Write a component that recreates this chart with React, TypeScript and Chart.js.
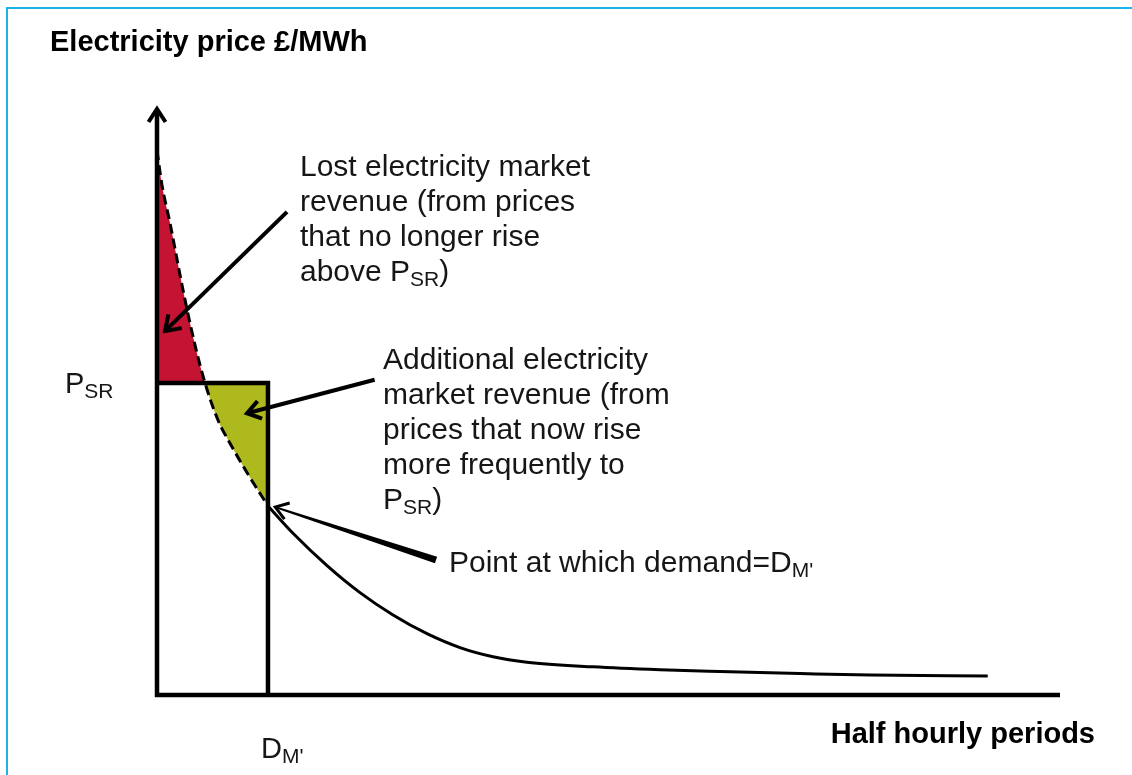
import React, { useEffect, useRef } from "react";
import { Chart, registerables } from "chart.js";
Chart.register(...registerables);

// Price level P_SR and demand point D_M' (data units: % of axis length)
const PSR = 53.15;
const DM = 12.29;

// Price duration curve above D_M' (dashed part)
const dashedX = [0, 0.55, 1.44, 2.88, 4.21, 5.32, 6.76, 8.08, 10.08, 12.29];
const dashedY = [92.8, 86.9, 80.4, 69.0, 59.6, 53.15, 46.8, 42.9, 37.6, 32.2];

// Price duration curve below D_M' (solid part)
const solidX = [12.29, 15.06, 18.83, 22.48, 26.14, 29.9, 33.55, 37.21, 40.97, 48.28, 55.7, 62.35, 71.2, 79.0, 92.0];
const solidY = [32.2, 27.55, 22.04, 17.44, 13.63, 10.44, 8.07, 6.51, 5.59, 4.8, 4.3, 4.0, 3.66, 3.4, 3.24];

// Annotation text
const lostLines = ["Lost electricity market", "revenue (from prices", "that no longer rise", "above P|SR|)"];
const addLines = ["Additional electricity", "market revenue (from", "prices that now rise", "more frequently to", "P|SR|)"];
const pointLabel = "Point at which demand=D|M'|";
const yTitle = "Electricity price £/MWh";
const xTitle = "Half hourly periods";
const psrLabel = "P|SR|";
const dmLabel = "D|M'|";

// Annotation arrows: [startX, startY, tipX, tipY] in data units
const arrowLost = [14.4, 82.3, 0.89, 62.0];
const arrowAdd = [24.1, 53.7, 9.97, 48.0];
const arrowPoint = [30.9, 23.0, 13.1, 32.0];

const RED = "#c51433";
const OLIVE = "#aeb91d";
const INK = "#161616";
const FONT = "'Liberation Sans', Arial, Helvetica, sans-serif";

function drawRich(ctx: CanvasRenderingContext2D, text: string, x: number, y: number, size: number, subSize: number, weight = "normal", align: "left" | "right" = "left") {
  const parts = text.split("|");
  const segs = parts.map((t, i) => ({ t, sub: i % 2 === 1 }));
  let total = 0;
  for (const s of segs) {
    ctx.font = `${weight} ${s.sub ? subSize : size}px ${FONT}`;
    total += ctx.measureText(s.t).width;
  }
  let cx = align === "right" ? x - total : x;
  ctx.textAlign = "left";
  ctx.textBaseline = "alphabetic";
  for (const s of segs) {
    ctx.font = `${weight} ${s.sub ? subSize : size}px ${FONT}`;
    ctx.fillText(s.t, cx, s.sub ? y + 5 : y);
    cx += ctx.measureText(s.t).width;
  }
}

function arrow(ctx: CanvasRenderingContext2D, x0: number, y0: number, x1: number, y1: number, w: number, head: number) {
  const ang = Math.atan2(y1 - y0, x1 - x0);
  ctx.save();
  ctx.strokeStyle = "#000";
  ctx.lineWidth = w;
  ctx.lineCap = "butt";
  ctx.beginPath();
  ctx.moveTo(x0, y0);
  ctx.lineTo(x1 - Math.cos(ang) * 2, y1 - Math.sin(ang) * 2);
  ctx.stroke();
  ctx.lineJoin = "miter";
  ctx.beginPath();
  ctx.moveTo(x1 - head * Math.cos(ang - 0.6), y1 - head * Math.sin(ang - 0.6));
  ctx.lineTo(x1, y1);
  ctx.lineTo(x1 - head * Math.cos(ang + 0.6), y1 - head * Math.sin(ang + 0.6));
  ctx.stroke();
  ctx.restore();
}

function taperArrow(ctx: CanvasRenderingContext2D, x0: number, y0: number, x1: number, y1: number, w0: number, w1: number, head: number) {
  const ang = Math.atan2(y1 - y0, x1 - x0);
  const nx = -Math.sin(ang), ny = Math.cos(ang);
  ctx.save();
  ctx.fillStyle = "#000";
  ctx.beginPath();
  ctx.moveTo(x0 + nx * w0 / 2, y0 + ny * w0 / 2);
  ctx.lineTo(x1 + nx * w1 / 2, y1 + ny * w1 / 2);
  ctx.lineTo(x1 - nx * w1 / 2, y1 - ny * w1 / 2);
  ctx.lineTo(x0 - nx * w0 / 2, y0 - ny * w0 / 2);
  ctx.closePath();
  ctx.fill();
  ctx.strokeStyle = "#000";
  ctx.lineWidth = 3;
  ctx.beginPath();
  ctx.moveTo(x1 - head * Math.cos(ang - 0.6), y1 - head * Math.sin(ang - 0.6));
  ctx.lineTo(x1, y1);
  ctx.lineTo(x1 - head * Math.cos(ang + 0.6), y1 - head * Math.sin(ang + 0.6));
  ctx.stroke();
  ctx.restore();
}

const diagramPlugin = {
  id: "diagram",
  afterDatasetsDraw(chart: any) {
    const ctx: CanvasRenderingContext2D = chart.ctx;
    const xs = chart.scales.x, ys = chart.scales.y;
    const px = (v: number) => xs.getPixelForValue(v);
    const py = (v: number) => ys.getPixelForValue(v);
    ctx.save();
    // outer light-blue frame (top and left)
    ctx.strokeStyle = "#1ab4ec";
    ctx.lineWidth = 2;
    ctx.beginPath();
    ctx.moveTo(7, 775);
    ctx.lineTo(7, 8);
    ctx.lineTo(1132, 8);
    ctx.stroke();

    // axes
    ctx.strokeStyle = "#000";
    ctx.lineWidth = 4.5;
    ctx.lineCap = "butt";
    ctx.beginPath();
    ctx.moveTo(px(0), py(0) + 2);
    ctx.lineTo(px(0), py(100) + 3);
    ctx.stroke();
    ctx.beginPath();
    ctx.moveTo(px(0) - 2, py(0));
    ctx.lineTo(px(100), py(0));
    ctx.stroke();
    // y axis arrow head
    ctx.lineWidth = 4;
    ctx.lineJoin = "miter";
    ctx.beginPath();
    ctx.moveTo(px(0) - 8.5, py(100) + 14);
    ctx.lineTo(px(0), py(100) + 1);
    ctx.lineTo(px(0) + 8.5, py(100) + 14);
    ctx.stroke();

    // annotation arrows
    arrow(ctx, px(arrowLost[0]), py(arrowLost[1]), px(arrowLost[2]), py(arrowLost[3]), 4, 17);
    arrow(ctx, px(arrowAdd[0]), py(arrowAdd[1]), px(arrowAdd[2]), py(arrowAdd[3]), 4, 16);
    taperArrow(ctx, px(arrowPoint[0]), py(arrowPoint[1]), px(arrowPoint[2]), py(arrowPoint[3]), 7, 2, 15);

    // texts
    ctx.fillStyle = "#000";
    drawRich(ctx, yTitle, 50, 51, 29, 29, "bold");
    drawRich(ctx, xTitle, 1095, 743, 29, 29, "bold", "right");
    ctx.fillStyle = INK;
    lostLines.forEach((l, i) => drawRich(ctx, l, 300, 176 + i * 35, 30, 21));
    addLines.forEach((l, i) => drawRich(ctx, l, 383, 369 + i * 35, 30, 21));
    drawRich(ctx, pointLabel, 449, 572, 30, 21);
    drawRich(ctx, psrLabel, 65, 393, 29, 21);
    drawRich(ctx, dmLabel, 261, 758, 29, 21);
    ctx.restore();
  },
};

export default function App() {
  const ref = useRef<HTMLCanvasElement | null>(null);
  useEffect(() => {
    if (!ref.current) return;
    const dashed = dashedX.map((x, i) => ({ x, y: dashedY[i] }));
    const solid = solidX.map((x, i) => ({ x, y: solidY[i] }));
    const box = [
      { x: 0, y: PSR },
      { x: DM, y: PSR },
      { x: DM, y: 0 },
    ];
    const chart = new Chart(ref.current, {
      type: "scatter",
      data: {
        datasets: [
          {
            data: dashed,
            showLine: true,
            borderColor: "#000",
            borderWidth: 3,
            borderDash: [10, 5],
            pointRadius: 0,
            cubicInterpolationMode: "monotone",
            fill: { target: { value: PSR }, above: RED, below: OLIVE },
            order: 3,
          } as any,
          {
            data: solid,
            showLine: true,
            borderColor: "#000",
            borderWidth: 3,
            pointRadius: 0,
            cubicInterpolationMode: "monotone",
            fill: false,
            order: 2,
          } as any,
          {
            data: box,
            showLine: true,
            borderColor: "#000",
            borderWidth: 4.5,
            pointRadius: 0,
            tension: 0,
            fill: false,
            borderJoinStyle: "miter",
            order: 1,
          } as any,
        ],
      },
      options: {
        responsive: false,
        animation: false,
        devicePixelRatio: 1,
        layout: { autoPadding: false, padding: { left: 157, right: 72, top: 108, bottom: 80 } },
        scales: {
          x: { type: "linear", min: 0, max: 100, display: false },
          y: { type: "linear", min: 0, max: 100, display: false },
        },
        plugins: { legend: { display: false }, tooltip: { enabled: false }, title: { display: false } },
      } as any,
      plugins: [diagramPlugin],
    });
    return () => chart.destroy();
  }, []);
  return (
    <div style={{ position: "fixed", left: 0, top: 0, width: 1132, height: 775, background: "#fff" }}>
      <canvas ref={ref} width={1132} height={775} style={{ display: "block" }} />
    </div>
  );
}
